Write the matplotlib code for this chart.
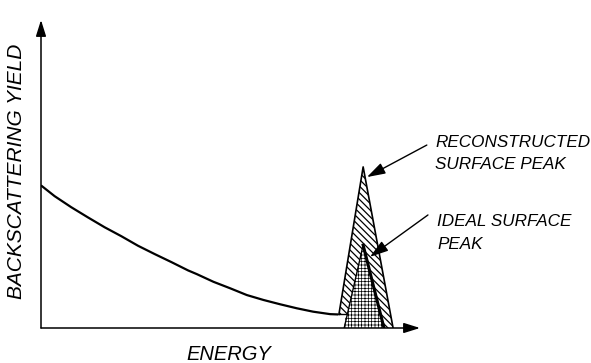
import matplotlib
matplotlib.use("Agg")
import matplotlib.pyplot as plt
from matplotlib.patches import Polygon

# background yield curve (arbitrary units, x: energy 0-100, y: yield 0-100)
curve_x = [0.0, 3.6, 8.0, 12.4, 16.8, 21.2, 25.6, 30.0, 34.4, 38.8, 41.1, 45.5,
           49.9, 54.3, 58.7, 63.1, 67.5, 71.8, 76.3, 78.4]
curve_y = [46.3, 42.8, 39.2, 35.9, 32.7, 29.8, 26.7, 24.0, 21.4, 18.7, 17.5, 15.0,
           12.9, 10.7, 9.1, 7.7, 6.4, 5.3, 4.5, 4.4]

# reconstructed surface peak (triangle)
recon_x = [78.6, 85.0, 92.9]
recon_y = [4.4, 52.3, 0.0]

# ideal surface peak (triangle)
ideal_x = [80.0, 85.0, 90.5]
ideal_y = [0.0, 26.9, 0.0]

plt.rcParams["font.family"] = ["Liberation Sans", "DejaVu Sans"]

fig = plt.figure(figsize=(5.91, 3.63), dpi=100)
W, H = 591, 363
ax = fig.add_axes([41 / W, (H - 328) / H, (420 - 41) / W, (328 - 20) / H])
ax.set_xlim(0, 100)
ax.set_ylim(0, 100)
ax.axis("off")

# axes with arrows
arrow = dict(arrowstyle="-|>,head_length=0.7,head_width=0.22", mutation_scale=14,
             lw=1.1, color="black", shrinkA=0, shrinkB=0)
ax.annotate("", xy=(1, 0), xytext=(0, 0), xycoords="axes fraction", arrowprops=arrow)
ax.annotate("", xy=(0, 1), xytext=(0, 0), xycoords="axes fraction", arrowprops=arrow)

ax.plot(curve_x, curve_y, color="black", lw=1.6, solid_capstyle="butt")

# reconstructed peak, diagonal hatch
plt.rcParams["hatch.linewidth"] = 0.9
recon_poly = [(recon_x[0], recon_y[0]), (recon_x[1], recon_y[1]),
              (recon_x[2], recon_y[2]), (ideal_x[0], ideal_y[0]),
              (80.4, recon_y[0])]
ax.add_patch(Polygon(recon_poly, closed=True, facecolor="white",
                     edgecolor="black", lw=0, hatch="\\\\\\\\\\"))
ax.plot(recon_x, recon_y, color="black", lw=1.2)
ax.plot([recon_x[0], 80.4], [recon_y[0], recon_y[0]], color="black", lw=1.0)

# ideal peak, cross hatch
plt.rcParams["hatch.linewidth"] = 0.5
ideal_poly = list(zip(ideal_x, ideal_y))
ax.add_patch(Polygon(ideal_poly, closed=True, facecolor="white",
                     edgecolor="black", lw=0, hatch="+++++"))
ax.plot(ideal_x[:2], ideal_y[:2], color="black", lw=1.0)
ax.plot(ideal_x[1:], ideal_y[1:], color="black", lw=2.2)

text_kw = dict(fontsize=12.3, style="italic", va="top", ha="left",
               linespacing=1.65, clip_on=False)
ax.text(104.0, 62.8, "RECONSTRUCTED\nSURFACE PEAK", **text_kw)
ax.text(104.5, 37.0, "IDEAL SURFACE\nPEAK", **text_kw)

pointer = dict(arrowstyle="-|>,head_length=0.8,head_width=0.25", mutation_scale=14,
               lw=1.0, color="black", shrinkA=0, shrinkB=0)
ax.annotate("", xy=(86.0, 49.0), xytext=(101.8, 59.4), arrowprops=pointer,
            annotation_clip=False)
ax.annotate("", xy=(86.8, 23.1), xytext=(102.1, 36.7), arrowprops=pointer,
            annotation_clip=False)

fig.text(17 / W, 1 - 171.5 / H, "BACKSCATTERING YIELD", rotation=90, fontsize=15,
         style="italic", ha="center", va="center")
fig.text(229 / W, 1 - 355 / H, "ENERGY", fontsize=14.5, style="italic",
         ha="center", va="center")

fig.savefig("out.png", dpi=100)
